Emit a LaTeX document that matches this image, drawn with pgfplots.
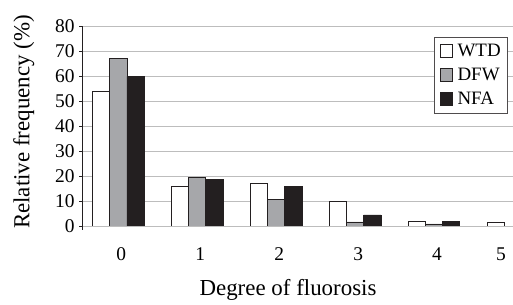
\documentclass[border=0pt]{standalone}
\usepackage{fontspec}
\setmainfont{Liberation Serif}
\usepackage{pgfplots}
\pgfplotsset{compat=1.18}
\definecolor{bargray}{HTML}{A6A7AA}
\definecolor{barblack}{HTML}{231F20}
\definecolor{gridgray}{HTML}{BDBDBD}
\begin{document}
\begin{tikzpicture}
\begin{axis}[
  name=ax,
  scale only axis,
  width=431bp, height=200bp,
  xmin=-0.46, xmax=5.0,
  ymin=0, ymax=80,
  ybar=0pt,
  bar width=0.218,
  axis x line*=bottom,
  x axis line style={draw=none},
  axis y line*=left,
  y axis line style={-, line width=0.8pt, draw=barblack, shorten <=-4bp},
  ytick={0,10,...,80},
  xtick={0,1,2,3,4,4.81},
  xticklabels={0,1,2,3,4,5},
  yticklabel={\pgfmathprintnumber[assume math mode=true]{\tick}},
  tick align=outside,
  major tick length=3bp,
  ytick style={line width=0.8pt, draw=barblack},
  xtick style={draw=none},
  ymajorgrids,
  grid style={gridgray, line width=0.9pt},
  ticklabel style={font=\rmfamily\fontsize{19.5}{21}\selectfont},
  yticklabel style={anchor=east, xshift=-1bp},
  xticklabel style={anchor=center, yshift=-25bp, xshift=3bp},
  xlabel={Degree of fluorosis},
  ylabel={Relative frequency (\%)},
  label style={font=\rmfamily\fontsize{23}{25}\selectfont},
  xlabel style={at={(axis description cs:0.478,-0.322)}, anchor=center},
  ylabel style={at={(axis description cs:-0.135,0.52)}, anchor=center},
  legend style={at={(1,1)}, anchor=north east, xshift=-5bp, yshift=-11bp,
    draw=barblack!80, line width=0.7pt, font=\rmfamily\fontsize{19}{21}\selectfont,
    inner xsep=5bp, inner ysep=5bp, row sep=6bp, cells={anchor=west}},
  every axis plot post/.append style={legend image code/.code={\draw[#1, line width=0.7pt] (0bp,-6bp) rectangle (12.5bp,6.5bp); \path (15bp,0bp);}},
]
\addplot[fill=white, draw=barblack, line width=0.8pt] coordinates {(0,54) (1,15.7) (2,16.9) (3,9.7) (4,2.0) (5,1.6)};
\addplot[fill=bargray, draw=barblack, line width=0.8pt] coordinates {(0,67) (1,19.5) (2,10.7) (3,1.6) (4,0.8)};
\addplot[fill=barblack, draw=barblack, line width=0.8pt] coordinates {(0,59.8) (1,18.7) (2,15.9) (3,4.4) (4,1.7)};
\legend{WTD, DFW, NFA}
\end{axis}
\pgfresetboundingbox
\path ([xshift=-82bp,yshift=-79bp]ax.south west) rectangle ([yshift=26bp]ax.north east);
\end{tikzpicture}
\end{document}
